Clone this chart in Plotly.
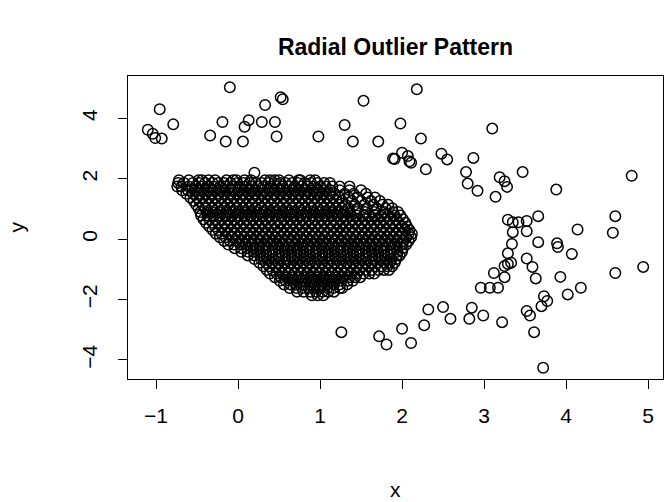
import plotly.graph_objects as go

# Outlying points
outlier_x = [-1.10, -1.04, -1.01, -0.93, -0.955, -0.79, -0.34, -0.19, -0.15, -0.10, 0.06, 0.08, 0.13, 0.29,
             0.33, 0.45, 0.47, 0.52, 0.545, 0.98, 1.30, 1.40, 1.53, 1.71, 1.98, 2.18, 3.10, 2.23, 1.89, 1.91,
             2.00, 2.07, 2.09, 2.11, 2.29, 2.48, 2.55, 2.87, 2.78, 2.80, 2.92, 3.19, 3.25, 3.28, 3.47, 3.88,
             4.80, 3.14, 0.20,
             3.29, 3.35, 3.42, 3.52, 3.66, 3.35, 3.52, 4.14, 4.60, 4.57, 3.66, 3.34, 3.89, 3.90, 4.07, 3.29,
             3.52, 3.33, 3.29, 3.25, 3.59, 3.12, 3.25, 3.63, 3.93, 4.60, 4.94,
             2.96, 3.07, 3.17, 3.73, 3.77, 3.70, 4.02, 4.18, 3.52, 3.56, 3.61, 3.72, 2.32, 2.50, 2.59, 2.85,
             2.82, 2.99, 3.22, 2.27, 2.00, 2.11, 1.26, 1.72, 1.81]
outlier_y = [3.62, 3.49, 3.35, 3.33, 4.30, 3.80, 3.43, 3.88, 3.23, 5.03, 3.23, 3.72, 3.94, 3.88,
             4.44, 3.88, 3.40, 4.70, 4.63, 3.40, 3.78, 3.23, 4.58, 3.23, 3.83, 4.96, 3.66, 3.33, 2.67, 2.65,
             2.86, 2.75, 2.58, 2.53, 2.31, 2.83, 2.64, 2.69, 2.22, 1.84, 1.60, 2.05, 1.92, 1.73, 2.22, 1.64,
             2.10, 1.40, 2.20,
             0.64, 0.56, 0.56, 0.60, 0.76, 0.23, 0.26, 0.32, 0.76, 0.21, -0.10, -0.16, -0.14, -0.26, -0.49, -0.47,
             -0.64, -0.78, -0.82, -0.89, -0.92, -1.12, -1.26, -1.30, -1.25, -1.12, -0.92,
             -1.61, -1.61, -1.61, -1.89, -2.05, -2.22, -1.83, -1.61, -2.38, -2.53, -3.08, -4.26, -2.33, -2.25, -2.64, -2.27,
             -2.64, -2.53, -2.75, -2.85, -2.97, -3.44, -3.08, -3.22, -3.49]

# Dense core, read row by row (y value, x values)
cluster_row_y = [1.95, 1.86, 1.74, 1.62, 1.50, 1.38, 1.26, 1.14, 1.02, 0.90, 0.78, 0.66, 0.54, 0.42, 0.30, 0.18,
                 0.06, -0.06, -0.18, -0.30, -0.42, -0.54, -0.66, -0.78, -0.90, -1.02, -1.14, -1.26, -1.38, -1.50,
                 -1.62, -1.74, -1.86]
cluster_row_x = [
    [-0.72, -0.60, -0.48, -0.44, -0.36, -0.28, -0.14, -0.06, -0.02, 0.08, 0.16, 0.33, 0.39, 0.45, 0.50, 0.62, 0.74, 0.76, 0.88, 0.94],
    [-0.73, -0.66, -0.55, -0.47, -0.40, -0.31, -0.24, -0.17, -0.09, -0.01, 0.07, 0.14, 0.22, 0.29, 0.37, 0.44, 0.52, 0.58, 0.66, 0.73, 0.81, 0.89, 0.97, 1.05, 1.12],
    [-0.74, -0.69, -0.60, -0.52, -0.45, -0.37, -0.30, -0.22, -0.15, -0.07, 0.01, 0.09, 0.16, 0.24, 0.31, 0.39, 0.47, 0.54, 0.62, 0.69, 0.77, 0.84, 0.92, 1.00, 1.07, 1.15, 1.24, 1.36],
    [-0.68, -0.61, -0.53, -0.46, -0.38, -0.31, -0.23, -0.16, -0.08, 0.00, 0.07, 0.15, 0.22, 0.30, 0.38, 0.45, 0.53, 0.60, 0.68, 0.75, 0.83, 0.91, 0.98, 1.06, 1.13, 1.24, 1.36, 1.50],
    [-0.63, -0.55, -0.48, -0.40, -0.33, -0.25, -0.17, -0.10, -0.02, 0.05, 0.13, 0.20, 0.28, 0.35, 0.43, 0.51, 0.58, 0.66, 0.73, 0.81, 0.88, 0.96, 1.03, 1.11, 1.18, 1.30, 1.41, 1.56],
    [-0.58, -0.50, -0.43, -0.35, -0.28, -0.20, -0.12, -0.05, 0.03, 0.10, 0.18, 0.25, 0.33, 0.41, 0.48, 0.56, 0.63, 0.71, 0.78, 0.86, 0.94, 1.01, 1.09, 1.16, 1.24, 1.35, 1.46, 1.58, 1.67],
    [-0.54, -0.47, -0.39, -0.32, -0.24, -0.16, -0.09, -0.01, 0.06, 0.14, 0.21, 0.29, 0.37, 0.44, 0.52, 0.59, 0.67, 0.74, 0.82, 0.90, 0.97, 1.05, 1.12, 1.20, 1.27, 1.39, 1.50, 1.62, 1.73],
    [-0.51, -0.43, -0.36, -0.28, -0.20, -0.13, -0.05, 0.02, 0.10, 0.17, 0.25, 0.33, 0.40, 0.48, 0.55, 0.63, 0.70, 0.78, 0.86, 0.93, 1.01, 1.08, 1.16, 1.23, 1.31, 1.42, 1.54, 1.65, 1.76, 1.83],
    [-0.48, -0.40, -0.32, -0.25, -0.17, -0.10, -0.02, 0.06, 0.13, 0.21, 0.28, 0.36, 0.44, 0.51, 0.59, 0.66, 0.74, 0.81, 0.89, 0.97, 1.04, 1.12, 1.19, 1.27, 1.35, 1.46, 1.57, 1.69, 1.80, 1.88],
    [-0.46, -0.38, -0.31, -0.23, -0.15, -0.08, 0.00, 0.07, 0.15, 0.22, 0.30, 0.38, 0.45, 0.53, 0.60, 0.68, 0.75, 0.83, 0.91, 0.98, 1.06, 1.13, 1.21, 1.29, 1.36, 1.44, 1.55, 1.66, 1.78, 1.89, 1.95],
    [-0.45, -0.37, -0.29, -0.22, -0.14, -0.07, 0.01, 0.09, 0.16, 0.24, 0.31, 0.39, 0.47, 0.54, 0.62, 0.69, 0.77, 0.84, 0.92, 1.00, 1.07, 1.15, 1.22, 1.30, 1.38, 1.45, 1.53, 1.60, 1.68, 1.75, 1.83, 1.91, 1.98],
    [-0.42, -0.35, -0.27, -0.20, -0.12, -0.04, 0.03, 0.11, 0.18, 0.26, 0.34, 0.41, 0.49, 0.56, 0.64, 0.72, 0.79, 0.87, 0.94, 1.02, 1.09, 1.17, 1.25, 1.32, 1.40, 1.47, 1.55, 1.63, 1.70, 1.78, 1.85, 1.93, 2.01],
    [-0.39, -0.31, -0.24, -0.16, -0.09, -0.01, 0.07, 0.14, 0.22, 0.29, 0.37, 0.45, 0.52, 0.60, 0.67, 0.75, 0.82, 0.90, 0.98, 1.05, 1.13, 1.20, 1.28, 1.36, 1.43, 1.51, 1.58, 1.66, 1.73, 1.81, 1.89, 1.96, 2.04],
    [-0.35, -0.28, -0.20, -0.13, -0.05, 0.03, 0.10, 0.18, 0.25, 0.33, 0.40, 0.48, 0.56, 0.63, 0.71, 0.78, 0.86, 0.94, 1.01, 1.09, 1.16, 1.24, 1.31, 1.39, 1.47, 1.54, 1.62, 1.69, 1.77, 1.85, 1.92, 2.00, 2.06],
    [-0.31, -0.24, -0.16, -0.08, -0.01, 0.07, 0.14, 0.22, 0.30, 0.37, 0.45, 0.52, 0.60, 0.67, 0.75, 0.83, 0.90, 0.98, 1.05, 1.13, 1.21, 1.28, 1.36, 1.43, 1.51, 1.58, 1.66, 1.74, 1.81, 1.89, 1.96, 2.04, 2.09],
    [-0.27, -0.20, -0.12, -0.04, 0.03, 0.11, 0.18, 0.26, 0.34, 0.41, 0.49, 0.56, 0.64, 0.71, 0.79, 0.87, 0.94, 1.02, 1.09, 1.17, 1.25, 1.32, 1.40, 1.47, 1.55, 1.62, 1.70, 1.78, 1.85, 1.93, 2.00, 2.08, 2.12],
    [-0.22, -0.15, -0.07, 0.00, 0.08, 0.16, 0.23, 0.31, 0.38, 0.46, 0.53, 0.61, 0.69, 0.76, 0.84, 0.91, 0.99, 1.06, 1.14, 1.22, 1.29, 1.37, 1.44, 1.52, 1.60, 1.67, 1.75, 1.82, 1.90, 1.97, 2.05, 2.11],
    [-0.17, -0.10, -0.02, 0.05, 0.13, 0.20, 0.28, 0.36, 0.43, 0.51, 0.58, 0.66, 0.73, 0.81, 0.89, 0.96, 1.04, 1.11, 1.19, 1.27, 1.34, 1.42, 1.49, 1.57, 1.64, 1.72, 1.80, 1.87, 1.95, 2.02, 2.08],
    [-0.12, -0.05, 0.03, 0.10, 0.18, 0.26, 0.33, 0.41, 0.48, 0.56, 0.63, 0.71, 0.79, 0.86, 0.94, 1.01, 1.09, 1.16, 1.24, 1.32, 1.39, 1.47, 1.54, 1.62, 1.69, 1.77, 1.85, 1.92, 2.00, 2.05],
    [-0.04, 0.04, 0.11, 0.19, 0.26, 0.34, 0.42, 0.49, 0.57, 0.64, 0.72, 0.79, 0.87, 0.95, 1.02, 1.10, 1.17, 1.25, 1.33, 1.40, 1.48, 1.55, 1.63, 1.70, 1.78, 1.86, 1.93, 2.01],
    [0.04, 0.12, 0.19, 0.27, 0.34, 0.42, 0.50, 0.57, 0.65, 0.72, 0.80, 0.87, 0.95, 1.03, 1.10, 1.18, 1.25, 1.33, 1.40, 1.48, 1.56, 1.63, 1.71, 1.78, 1.86, 1.94, 2.00],
    [0.12, 0.20, 0.27, 0.35, 0.42, 0.50, 0.58, 0.65, 0.73, 0.80, 0.88, 0.95, 1.03, 1.11, 1.18, 1.26, 1.33, 1.41, 1.48, 1.56, 1.64, 1.71, 1.79, 1.86, 1.94, 1.97],
    [0.20, 0.28, 0.35, 0.43, 0.50, 0.58, 0.66, 0.73, 0.81, 0.88, 0.96, 1.03, 1.11, 1.19, 1.26, 1.34, 1.41, 1.49, 1.56, 1.64, 1.72, 1.79, 1.87, 1.93],
    [0.26, 0.34, 0.41, 0.49, 0.56, 0.64, 0.72, 0.79, 0.87, 0.94, 1.02, 1.09, 1.17, 1.25, 1.32, 1.40, 1.47, 1.55, 1.62, 1.70, 1.78, 1.85, 1.91],
    [0.31, 0.38, 0.46, 0.53, 0.61, 0.69, 0.76, 0.84, 0.91, 0.99, 1.06, 1.14, 1.22, 1.29, 1.37, 1.44, 1.52, 1.59, 1.67, 1.75, 1.82, 1.88],
    [0.35, 0.42, 0.50, 0.57, 0.65, 0.73, 0.80, 0.88, 0.95, 1.03, 1.10, 1.18, 1.26, 1.33, 1.41, 1.48, 1.56, 1.63, 1.71, 1.78, 1.84],
    [0.39, 0.47, 0.54, 0.62, 0.69, 0.77, 0.85, 0.92, 1.00, 1.07, 1.15, 1.22, 1.30, 1.38, 1.45, 1.53, 1.60, 1.66],
    [0.45, 0.52, 0.60, 0.67, 0.75, 0.83, 0.90, 0.98, 1.05, 1.13, 1.20, 1.28, 1.36, 1.43, 1.49],
    [0.51, 0.58, 0.66, 0.73, 0.81, 0.89, 0.96, 1.04, 1.11, 1.19, 1.26, 1.34, 1.40],
    [0.56, 0.64, 0.71, 0.79, 0.87, 0.94, 1.02, 1.09, 1.17, 1.24, 1.33],
    [0.63, 0.71, 0.78, 0.86, 0.93, 1.01, 1.09, 1.16, 1.24, 1.27],
    [0.72, 0.80, 0.88, 0.95, 1.03, 1.10, 1.17],
    [0.90, 0.97, 1.04],
]

x_ticks = [-1, 0, 1, 2, 3, 4, 5]
y_ticks = [-4, -2, 0, 2, 4]

# assemble the point table
xs, ys = [], []
for yv, row in zip(cluster_row_y, cluster_row_x):
    xs.extend(row)
    ys.extend([yv] * len(row))
xs.extend(outlier_x)
ys.extend(outlier_y)

# R-style 4% padding of the data range
def padded(vals):
    lo, hi = min(vals), max(vals)
    d = (hi - lo) * 0.04
    return [lo - d, hi + d]

FONT = "Liberation Sans, Arial, sans-serif"

fig = go.Figure(go.Scatter(
    x=xs, y=ys, mode="markers",
    marker=dict(symbol="circle-open", size=10.5, color="black", line=dict(width=1.5, color="black")),
    hoverinfo="skip",
))

axis_common = dict(
    showgrid=False, zeroline=False, showline=True, mirror=True,
    linecolor="black", linewidth=1, ticks="outside", ticklen=9, tickwidth=1, tickcolor="black",
    tickfont=dict(family=FONT, size=21, color="black"),
)

fig.update_layout(
    width=665, height=502,
    margin=dict(l=128, r=2, t=76, b=123),
    paper_bgcolor="white", plot_bgcolor="white",
    showlegend=False,
    title=dict(text="<b>Radial Outlier Pattern</b>", x=0.5, xref="paper", xanchor="center",
               y=1 - 47 / 502, yanchor="middle",
               font=dict(family=FONT, size=23, color="black")),
    xaxis=dict(range=padded(xs), tickvals=x_ticks, ticklabelstandoff=9, **axis_common),
    yaxis=dict(range=padded(ys), tickvals=y_ticks, tickangle=-90, ticklabelstandoff=13, **axis_common),
    annotations=[
        dict(text="x", xref="paper", yref="paper", x=0.5, y=-111 / 303, xanchor="center", yanchor="middle",
             showarrow=False, font=dict(family=FONT, size=21, color="black")),
        dict(text="y", xref="paper", yref="paper", x=-112 / 535, y=0.5, xanchor="center", yanchor="middle",
             textangle=-90, showarrow=False, font=dict(family=FONT, size=21, color="black")),
    ],
)

fig.write_html("out.html")
